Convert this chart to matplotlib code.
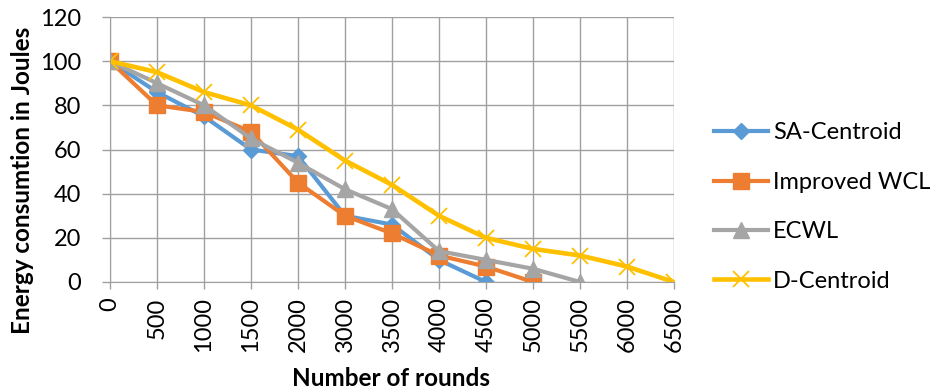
import matplotlib.pyplot as plt

plt.rcParams['font.family'] = ['Lato', 'DejaVu Sans']

rounds = ['0', '500', '1000', '1500', '2000', '3000', '3500',
          '4000', '4500', '5000', '5500', '6000', '6500']

sa_centroid = [100, 86, 75, 60, 57, 30, 26, 10, 0]
improved_wcl = [100, 80, 77, 68, 45, 30, 22, 12, 7, 0]
ecwl = [100, 90, 80, 65, 54, 42, 33, 14, 10, 6, 0]
d_centroid = [100, 95, 86, 80, 69, 55, 44, 30, 20, 15, 12, 7, 0]

W, H = 937, 392
fig = plt.figure(figsize=(W / 100, H / 100), dpi=100)
ax = fig.add_axes([110 / W, 1 - 282 / H, 564 / W, 265 / H])

ax.plot(range(len(sa_centroid)), sa_centroid, color='#5B9BD5', lw=3,
        marker='D', markersize=8.5, label='SA-Centroid')
ax.plot(range(len(improved_wcl)), improved_wcl, color='#ED7D31', lw=3,
        marker='s', markersize=11.5, label='Improved WCL')
ax.plot(range(len(ecwl)), ecwl, color='#A5A5A5', lw=3,
        marker='^', markersize=11, label='ECWL')
ax.plot(range(len(d_centroid)), d_centroid, color='#FFC000', lw=3.3,
        marker='x', markersize=11, markeredgewidth=1.3, label='D-Centroid')

ax.set_xlim(0, len(rounds) - 1)
ax.set_ylim(0, 120)
ax.set_xticks(range(len(rounds)))
ax.set_xticklabels(rounds, rotation=90)
ax.set_yticks(range(0, 121, 20))
ax.tick_params(labelsize=17, color='#A0A0A0', width=1)
ax.tick_params(axis='x', length=5, pad=6)
ax.tick_params(axis='y', length=6, pad=15)
ax.grid(True, color='#A0A0A0', lw=1)
ax.set_axisbelow(True)
for s in ['top', 'right']:
    ax.spines[s].set_visible(False)
for s in ['left', 'bottom']:
    ax.spines[s].set_color('#A0A0A0')

fig.text(23 / W, 1 - 180 / H, 'Energy consumtion in Joules', rotation=90,
         fontsize=17.5, fontweight='bold', ha='center', va='center')
fig.text(391 / W, 1 - 378 / H, 'Number of rounds',
         fontsize=17.5, fontweight='bold', ha='center', va='center')

ax.legend(loc='center left', bbox_to_anchor=(714 / W, 1 - 207 / H),
          bbox_transform=fig.transFigure, frameon=False, fontsize=17,
          handlelength=2.3, handletextpad=0.2, labelspacing=1.2,
          borderpad=0, borderaxespad=0)

fig.savefig('out.png')
